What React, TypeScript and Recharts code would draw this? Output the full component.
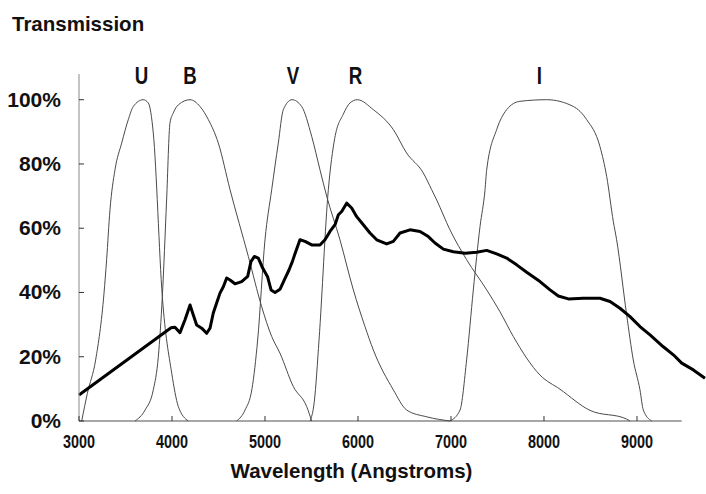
import React from "react";
import { LineChart, Line, XAxis, YAxis, ReferenceDot, ReferenceLine } from "recharts";

type Pt = { w: number; t: number };
const pts = (rows: number[][]): Pt[] => rows.map(([w, t]) => ({ w, t }));

// filter transmission curves, wavelength (A) vs %
const uBand = pts([
  [3029, 0], [3090, 8.6], [3179, 19], [3269, 39.8], [3297, 50.2], [3333, 65.7], [3387, 78.2],
  [3459, 86.5], [3530, 93.8], [3584, 97.9], [3690, 100], [3745, 99], [3799, 89.6], [3896, 38.7],
  [3997, 14.9], [4068, 4.5], [4175, 0],
]);
const bBand = pts([
  [3602, 0], [3710, 3.4], [3799, 9.7], [3853, 20], [3896, 38.7], [3942, 68.8], [3978, 92.7],
  [4014, 95.9], [4068, 98.4], [4194, 100], [4301, 97.9], [4391, 93.8], [4498, 86.5], [4624, 72],
  [4821, 51.2], [4964, 35.6], [5072, 26.3], [5161, 21.1], [5305, 10.7], [5448, 4.5], [5502, 0],
]);
const vBand = pts([
  [4695, 0], [4785, 3.4], [4860, 10], [4921, 25.2], [5000, 56.4], [5072, 72], [5143, 86.5],
  [5197, 96.9], [5290, 100], [5394, 97.9], [5502, 88.6], [5591, 78.2], [5663, 70], [5806, 56.4],
  [5950, 40.8], [6075, 29.4], [6165, 22.1], [6380, 9.7], [6524, 3.4], [6739, 1.3], [6989, 0],
]);
const rBand = pts([
  [5484, 0], [5530, 6], [5581, 25.2], [5681, 72], [5750, 88], [5842, 95.5], [5914, 99], [5993, 100],
  [6165, 96.9], [6380, 90.7], [6523, 83.4], [6702, 77.2], [6792, 72], [6846, 68.8], [6989, 59.5],
  [7168, 50.2], [7384, 40.8], [7527, 34], [7670, 26.3], [7957, 14.3], [8172, 9.9], [8495, 3.3],
  [8889, 0.6], [8925, 0],
]);
const iBand = pts([
  [6989, 0], [7097, 3.4], [7168, 19], [7240, 40.8], [7312, 60.5], [7366, 72], [7384, 78.2],
  [7491, 90.7], [7599, 96.9], [7742, 99.5], [8029, 100], [8315, 97.9], [8459, 93.8], [8602, 85.4],
  [8674, 76.1], [8746, 62], [8781, 56.4], [8889, 33], [8960, 19], [9032, 9.7], [9068, 3.4], [9158, 0],
]);

// the source spectrum (thick line)
const spectrum = pts([
  [3000, 8.1], [3990, 29], [4032, 29.2], [4086, 27.5], [4140, 31.5], [4194, 36.1], [4229, 33],
  [4265, 29.9], [4319, 28.9], [4373, 27.3], [4409, 28.9], [4444, 33.6], [4480, 36.7], [4516, 39.8],
  [4552, 41.8], [4588, 44.5], [4624, 43.9], [4677, 42.7], [4749, 43.4], [4814, 45], [4849, 49.6],
  [4885, 51.2], [4928, 50.7], [4975, 47.6], [5029, 44.8], [5065, 40.8], [5108, 40], [5161, 41],
  [5208, 43.9], [5258, 47], [5294, 49.6], [5330, 52.7], [5376, 56.4], [5430, 55.9], [5502, 54.8],
  [5591, 54.8], [5645, 56.4], [5699, 59], [5753, 61.1], [5789, 64.2], [5825, 65.2], [5878, 67.8],
  [5932, 66.3], [5986, 63.6], [6057, 61.1], [6129, 58.5], [6201, 56.4], [6308, 55.1], [6380, 55.9],
  [6452, 58.5], [6559, 59.5], [6667, 59], [6756, 57.4], [6828, 55.4], [6918, 53.5], [7025, 52.7],
  [7151, 52.2], [7276, 52.5], [7384, 53.1], [7491, 52], [7599, 50.7], [7706, 48.6], [7814, 46.3],
  [7957, 43.4], [8065, 40.8], [8154, 38.9], [8262, 38], [8423, 38.2], [8602, 38.2], [8710, 37.2],
  [8817, 35.1], [8925, 32.5], [9032, 29.4], [9140, 26.8], [9283, 23.1], [9391, 20.6], [9481, 18],
  [9606, 15.9], [9731, 13.3],
]);

const bands = [uBand, bBand, vBand, rBand, iBand];
const bandNames = ["U", "B", "V", "R", "I"];
const bandLabelAt = [3672, 4194, 5300, 5973, 7950];
const xTicks = [3000, 4000, 5000, 6000, 7000, 8000, 9000];
const yTicks = [0, 20, 40, 60, 80, 100];
const axisEnd = 9480;

const BOLD = "'Liberation Sans', Arial, sans-serif";

function XTick(props: any) {
  const { x, y, payload } = props;
  return (
    <g>
      <line x1={x} x2={x} y1={y - 5} y2={y} stroke="#333" />
      <g transform={`translate(${x},${y + 27}) scale(0.8,1)`}>
        <text x={0} y={0} textAnchor="middle" fontFamily={BOLD} fontWeight="bold" fontSize={18} fill="#111">
          {payload.value}
        </text>
      </g>
    </g>
  );
}

function YTick(props: any) {
  const { x, y, payload } = props;
  return (
    <g>
      <line x1={x} x2={x + 5} y1={y} y2={y} stroke="#333" />
      <text x={x - 18} y={y + 7} textAnchor="end" fontFamily={BOLD} fontWeight="bold" fontSize={21} fill="#111">
        {payload.value}%
      </text>
    </g>
  );
}

function BandName({ viewBox, name }: { viewBox?: any; name: string }) {
  if (!viewBox) return null;
  const cx = viewBox.x + (viewBox.width || 0) / 2;
  const cy = viewBox.y;
  return (
    <g transform={`translate(${cx},${cy - 16}) scale(0.78,1)`}>
      <text x={0} y={0} textAnchor="middle" fontFamily={BOLD} fontWeight="bold" fontSize={24} fill="#111">
        {name}
      </text>
    </g>
  );
}

export default function App() {
  return (
    <div style={{ position: "absolute", left: 0, top: 0, width: 706, height: 494, background: "#fff" }}>
      <LineChart width={706} height={494} margin={{ top: 74, right: 0, bottom: 0, left: 0 }}>
        <XAxis
          dataKey="w"
          type="number"
          domain={[3000, 9742]}
          ticks={xTicks}
          height={73}
          axisLine={false}
          tickLine={false}
          tickSize={0}
          tickMargin={0}
          tick={<XTick />}
          interval={0}
        />
        <YAxis
          type="number"
          domain={[0, 108]}
          ticks={yTicks}
          width={79}
          axisLine={{ stroke: "#8a8a8a" }}
          tickLine={false}
          tickSize={0}
          tickMargin={0}
          tick={<YTick />}
          interval={0}
        />
        <ReferenceLine
          segment={[{ x: 3000, y: 0 }, { x: axisEnd, y: 0 }]}
          stroke="#8a8a8a"
          strokeWidth={1.5}
        />
        {bands.map((b, i) => (
          <Line
            key={bandNames[i]}
            data={b}
            dataKey="t"
            type="monotone"
            stroke="#4a4a4a"
            strokeWidth={1}
            dot={false}
            isAnimationActive={false}
          />
        ))}
        <Line
          data={spectrum}
          dataKey="t"
          type="linear"
          stroke="#000"
          strokeWidth={3}
          strokeLinejoin="round"
          dot={false}
          isAnimationActive={false}
        />
        {bandNames.map((n, i) => (
          <ReferenceDot
            key={n}
            x={bandLabelAt[i]}
            y={100}
            r={0}
            fill="none"
            stroke="none"
            label={(p: any) => <BandName viewBox={p.viewBox} name={n} />}
          />
        ))}
      </LineChart>
      <svg width={706} height={494} style={{ position: "absolute", left: 0, top: 0, pointerEvents: "none" }}>
        <text x={12} y={31} fontFamily={BOLD} fontWeight="bold" fontSize={20.5} fill="#111">
          Transmission
        </text>
        <text x={351.5} y={478} textAnchor="middle" fontFamily={BOLD} fontWeight="bold" fontSize={20.5} fill="#111">
          Wavelength (Angstroms)
        </text>
      </svg>
    </div>
  );
}
